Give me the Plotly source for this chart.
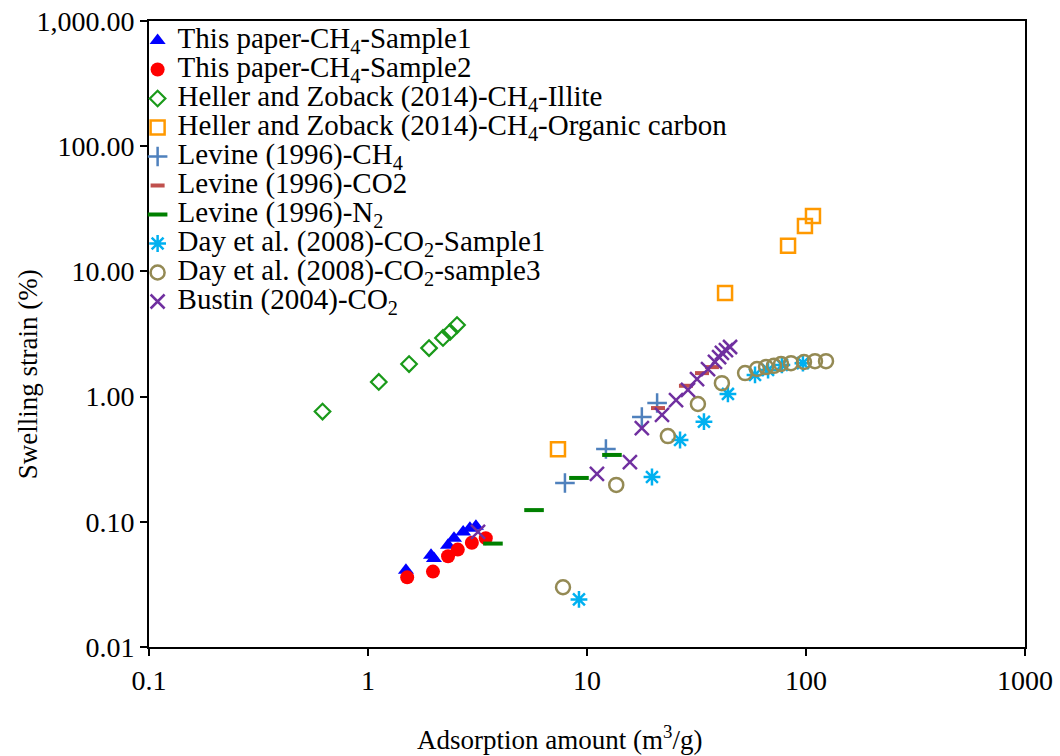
import plotly.graph_objects as go

# ---- data: adsorption amount (m3/g) vs swelling strain (%) ----
s1_x = [1.49, 1.94, 2.00, 2.32, 2.47, 2.72, 2.92, 3.11]
s1_y = [0.041, 0.054, 0.051, 0.065, 0.074, 0.083, 0.089, 0.092]

s2_x = [1.51, 1.98, 2.32, 2.57, 2.98, 3.45]
s2_y = [0.036, 0.040, 0.053, 0.060, 0.068, 0.074]

illite_x = [0.62, 1.12, 1.54, 1.90, 2.20, 2.37, 2.55]
illite_y = [0.76, 1.31, 1.82, 2.44, 2.94, 3.28, 3.73]

organic_x = [7.37, 42.7, 82.8, 98.9, 107.6]
organic_y = [0.38, 6.72, 16.0, 23.0, 27.7]

lev_ch4_x = [7.93, 12.2, 17.8, 20.9]
lev_ch4_y = [0.204, 0.381, 0.687, 0.889]

lev_co2_x = [21.1, 28.3, 33.5, 37.2]
lev_co2_y = [0.81, 1.22, 1.54, 1.72]

lev_n2_x = [3.72, 5.73, 9.19, 13.0]
lev_n2_y = [0.067, 0.124, 0.224, 0.342]

day1_x = [9.19, 19.8, 26.6, 34.2, 44.0, 58.5, 67.1, 77.6, 96.8]
day1_y = [0.024, 0.228, 0.45, 0.63, 1.05, 1.49, 1.63, 1.79, 1.85]

day3_x = [7.77, 13.6, 23.4, 32.1, 41.3, 52.7, 59.7, 65.7, 71.4, 76.9, 85.4, 97.9, 109.9, 123.4]
day3_y = [0.030, 0.197, 0.484, 0.873, 1.28, 1.54, 1.66, 1.72, 1.76, 1.82, 1.85, 1.89, 1.92, 1.92]

bustin_x = [3.18, 11.1, 15.7, 17.8, 22.0, 25.5, 28.9, 31.8, 35.7, 38.4, 40.1, 41.3, 43.1, 45.0]
bustin_y = [0.083, 0.241, 0.300, 0.561, 0.713, 0.939, 1.13, 1.38, 1.66, 1.89, 2.07, 2.23, 2.35, 2.49]

x_ticks = [0.1, 1, 10, 100, 1000]
x_ticktext = ["0.1", "1", "10", "100", "1000"]
y_ticks = [0.01, 0.1, 1, 10, 100, 1000]
y_ticktext = ["0.01", "0.10", "1.00", "10.00", "100.00", "1,000.00"]

x_title = "Adsorption amount (m<sup>3</sup>/g)"
y_title = "Swelling strain (%)"

FONT = "Liberation Serif"


def lbl(text):
    # legend rows keep a compact spacing while the label itself is drawn larger
    return '<span style="font-size:29px">' + text + '</span>'


series = [
    (s1_x, s1_y, "This paper-CH<sub>4</sub>-Sample1",
     dict(symbol="triangle-up", size=14, color="#0000ff")),
    (s2_x, s2_y, "This paper-CH<sub>4</sub>-Sample2",
     dict(symbol="circle", size=14, color="#ff0000")),
    (illite_x, illite_y, "Heller and Zoback (2014)-CH<sub>4</sub>-Illite",
     dict(symbol="diamond-open", size=12, color="#1a9a1a", line=dict(width=2.2, color="#1a9a1a"))),
    (organic_x, organic_y, "Heller and Zoback (2014)-CH<sub>4</sub>-Organic carbon",
     dict(symbol="square-open", size=14, color="#ff9900", line=dict(width=2.5, color="#ff9900"))),
    (lev_ch4_x, lev_ch4_y, "Levine (1996)-CH<sub>4</sub>",
     dict(symbol="cross-thin-open", size=14, color="#4f81bd", line=dict(width=2.5, color="#4f81bd"))),
    (lev_co2_x, lev_co2_y, "Levine (1996)-CO2",
     dict(symbol="line-ew-open", size=10, color="#c0504d", line=dict(width=4, color="#c0504d"))),
    (lev_n2_x, lev_n2_y, "Levine (1996)-N<sub>2</sub>",
     dict(symbol="line-ew-open", size=14, color="#008000", line=dict(width=4, color="#008000"))),
    (day1_x, day1_y, "Day et al. (2008)-CO<sub>2</sub>-Sample1",
     dict(symbol="asterisk-open", size=14, color="#00b0f0", line=dict(width=2.5, color="#00b0f0"))),
    (day3_x, day3_y, "Day et al. (2008)-CO<sub>2</sub>-sample3",
     dict(symbol="circle-open", size=14, color="#948a54", line=dict(width=2.5, color="#948a54"))),
    (bustin_x, bustin_y, "Bustin (2004)-CO<sub>2</sub>",
     dict(symbol="x-thin-open", size=14, color="#7030a0", line=dict(width=2.5, color="#7030a0"))),
]

fig = go.Figure()
for xs, ys, name, marker in series:
    fig.add_trace(go.Scatter(x=xs, y=ys, mode="markers", name=lbl(name), marker=marker))

axis_common = dict(
    type="log", showgrid=False, zeroline=False, showline=True, linecolor="black",
    linewidth=2, mirror=True, ticks="outside", ticklen=7, tickwidth=1.5,
    tickcolor="black", tickfont=dict(family=FONT, size=28, color="black"),
)

fig.update_xaxes(**axis_common, range=[-1, 3], tickvals=x_ticks, ticktext=x_ticktext)
fig.update_yaxes(**axis_common, range=[-2, 3], tickvals=y_ticks, ticktext=y_ticktext)

# axis titles, centred on the chart area rather than the plot box
fig.add_annotation(text=x_title, xref="paper", yref="paper", x=0.469, y=-0.145,
                   xanchor="center", yanchor="middle", showarrow=False,
                   font=dict(family=FONT, size=27, color="black"))
fig.add_annotation(text=y_title, xref="paper", yref="paper", x=-0.138, y=0.436,
                   xanchor="center", yanchor="middle", showarrow=False, textangle=-90,
                   font=dict(family=FONT, size=27, color="black"))

fig.update_layout(
    width=1060, height=756,
    margin=dict(l=149, r=35, t=21, b=109, autoexpand=False),
    paper_bgcolor="white", plot_bgcolor="white",
    font=dict(family=FONT, color="black"),
    legend=dict(x=-0.013, y=1.0, xanchor="left", yanchor="top",
                font=dict(family=FONT, size=20, color="black"),
                bgcolor="rgba(0,0,0,0)", borderwidth=0, tracegroupgap=0),
    showlegend=True,
)

fig.write_html("out.html")
